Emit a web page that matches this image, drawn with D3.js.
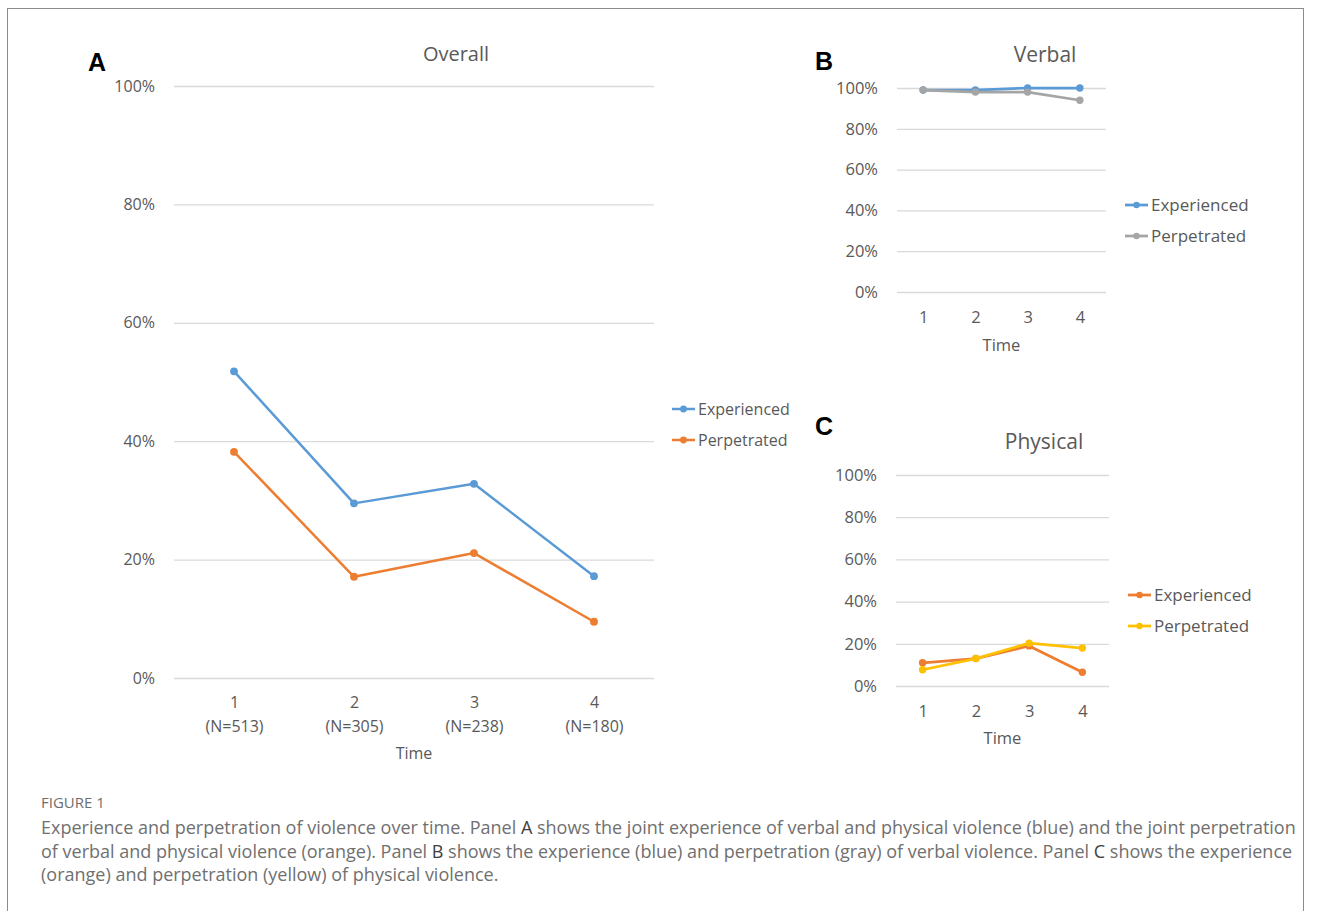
<!DOCTYPE html>
<html>
<head>
    <title>Experience and perpetration of violence over time</title>
    <script src="https://d3js.org/d3.v7.min.js"></script>
    <style>
        body { margin: 0; background: #fff; }
        svg text { font-family: "Open Sans", Lato, sans-serif; }
    </style>
</head>
<body>
    <div id="chart"></div>

    <script>
        // data
        var times = ["1", "2", "3", "4"];
        var sampleSizes = ["(N=513)", "(N=305)", "(N=238)", "(N=180)"];
        var yTicks = [0, 20, 40, 60, 80, 100];
        var seriesNames = ["Experienced", "Perpetrated"];

        var overallExperienced = [51.8, 29.5, 32.8, 17.2];
        var overallPerpetrated = [38.2, 17.1, 21.1, 9.5];
        var verbalExperienced = [99, 99, 100, 100];
        var verbalPerpetrated = [99, 98, 98, 94];
        var physicalExperienced = [11, 13, 19, 6.5];
        var physicalPerpetrated = [7.7, 13, 20.3, 18];

        var captionHead = "FIGURE 1";
        var captionLines = [
            ["Experience and perpetration of violence over time. Panel ", "A", " shows the joint experience of verbal and physical violence (blue) and the joint perpetration"],
            ["of verbal and physical violence (orange). Panel ", "B", " shows the experience (blue) and perpetration (gray) of verbal violence. Panel ", "C", " shows the experience"],
            ["(orange) and perpetration (yellow) of physical violence."]
        ];

        var textGray = "#595959";
        var gridGray = "#d9d9d9";

        var svg = d3.select("#chart")
            .append("svg")
            .attr("width", 1331)
            .attr("height", 911);

        // frame round the figure
        svg.append("rect")
            .attr("x", 7.5).attr("y", 8.5)
            .attr("width", 1296).attr("height", 940)
            .attr("fill", "none")
            .attr("stroke", "#8c8c8c")
            .attr("stroke-width", 1);

        function drawPanel(p) {
            var x = d3.scalePoint().domain(times).range([p.left, p.right]).padding(0.5);
            var y = d3.scaleLinear().domain([0, 100]).range([p.bottom, p.top]);

            var g = svg.append("g");

            // gridlines + y labels
            var yAxis = g.append("g")
                .attr("transform", "translate(" + p.left + ",0)")
                .call(d3.axisLeft(y).tickValues(yTicks)
                    .tickSize(-(p.right - p.left))
                    .tickPadding(19)
                    .tickFormat(function(d) { return d + "%"; }));
            yAxis.select(".domain").remove();
            yAxis.selectAll("line").attr("stroke", gridGray).attr("stroke-width", 1.3);
            yAxis.selectAll("text")
                .attr("fill", textGray)
                .style("font-size", p.tickSize + "px")
                .style("font-family", "'Open Sans', sans-serif");

            // x labels
            var xAxis = g.append("g")
                .attr("transform", "translate(0," + p.bottom + ")")
                .call(d3.axisBottom(x).tickSize(0).tickPadding(p.xPad));
            xAxis.select(".domain").remove();
            xAxis.selectAll("text")
                .attr("fill", textGray)
                .style("font-size", p.tickSize + "px")
                .style("font-family", "'Open Sans', sans-serif");

            if (p.subLabels) {
                xAxis.selectAll(".tick").append("text")
                    .attr("y", p.xPad + 24)
                    .attr("dy", "0.71em")
                    .attr("text-anchor", "middle")
                    .attr("fill", textGray)
                    .style("font-size", p.tickSize + "px")
                    .text(function(d, i) { return p.subLabels[i]; });
            }

            g.append("text")
                .attr("x", (p.left + p.right) / 2)
                .attr("y", p.timeY)
                .attr("text-anchor", "middle")
                .attr("fill", textGray)
                .style("font-size", p.tickSize + "px")
                .text("Time");

            g.append("text")
                .attr("x", p.titleX)
                .attr("y", p.titleY)
                .attr("text-anchor", "middle")
                .attr("fill", textGray)
                .style("font-size", p.titleSize + "px")
                .text(p.title);

            g.append("text")
                .attr("x", p.letterX)
                .attr("y", p.letterY)
                .attr("fill", "#000")
                .style("font-family", "'Liberation Sans', Arial, sans-serif")
                .style("font-weight", "bold")
                .style("font-size", "25px")
                .text(p.letter);

            var line = d3.line()
                .x(function(d, i) { return x(times[i]); })
                .y(function(d) { return y(d); });

            p.series.forEach(function(s) {
                g.append("path")
                    .datum(s.values)
                    .attr("d", line)
                    .attr("fill", "none")
                    .attr("stroke", s.color)
                    .attr("stroke-width", p.lineWidth)
                    .attr("stroke-linejoin", "round");
                g.selectAll(null)
                    .data(s.values)
                    .enter()
                    .append("circle")
                    .attr("cx", function(d, i) { return x(times[i]); })
                    .attr("cy", function(d) { return y(d); })
                    .attr("r", p.dot)
                    .attr("fill", s.color);
            });

            // legend
            p.series.forEach(function(s, i) {
                var ly = p.legendY + i * 31;
                g.append("line")
                    .attr("x1", p.legendX).attr("x2", p.legendX + 23)
                    .attr("y1", ly).attr("y2", ly)
                    .attr("stroke", s.color)
                    .attr("stroke-width", p.lineWidth);
                g.append("circle")
                    .attr("cx", p.legendX + 11.5).attr("cy", ly)
                    .attr("r", p.dot - 0.5)
                    .attr("fill", s.color);
                g.append("text")
                    .attr("x", p.legendX + 26)
                    .attr("y", ly)
                    .attr("dy", "0.35em")
                    .attr("fill", textGray)
                    .style("font-size", p.legendSize + "px")
                    .text(seriesNames[i]);
            });
        }

        drawPanel({
            left: 174, right: 654, top: 86, bottom: 678,
            tickSize: 16, xPad: 19, subLabels: sampleSizes, timeY: 759,
            title: "Overall", titleX: 456, titleY: 61, titleSize: 20,
            letter: "A", letterX: 88, letterY: 70.5,
            lineWidth: 2.5, dot: 3.9,
            legendX: 672, legendY: 409, legendSize: 16,
            series: [
                { values: overallExperienced, color: "#5b9bd5" },
                { values: overallPerpetrated, color: "#ed7d31" }
            ]
        });

        drawPanel({
            left: 897, right: 1106, top: 88, bottom: 292,
            tickSize: 16.5, xPad: 19, timeY: 351,
            title: "Verbal", titleX: 1045, titleY: 62, titleSize: 21,
            letter: "B", letterX: 815, letterY: 70,
            lineWidth: 2.75, dot: 3.7,
            legendX: 1125, legendY: 205, legendSize: 17,
            series: [
                { values: verbalExperienced, color: "#5b9bd5" },
                { values: verbalPerpetrated, color: "#a5a5a5" }
            ]
        });

        drawPanel({
            left: 896, right: 1109, top: 475, bottom: 686,
            tickSize: 16.5, xPad: 19, timeY: 744,
            title: "Physical", titleX: 1044, titleY: 449, titleSize: 21,
            letter: "C", letterX: 815, letterY: 435,
            lineWidth: 2.75, dot: 3.7,
            legendX: 1128, legendY: 595, legendSize: 17,
            series: [
                { values: physicalExperienced, color: "#ed7d31" },
                { values: physicalPerpetrated, color: "#ffc000" }
            ]
        });

        // caption
        svg.append("text")
            .attr("x", 41).attr("y", 808)
            .attr("fill", "#6e6e6e")
            .style("font-size", "15px")
            .text(captionHead);

        captionLines.forEach(function(parts, i) {
            var t = svg.append("text")
                .attr("x", 41)
                .attr("y", 834 + i * 23.5)
                .attr("fill", "#707070")
                .style("font-size", "18px");
            parts.forEach(function(part, j) {
                t.append("tspan")
                    .attr("fill", j % 2 === 1 ? "#404040" : "#707070")
                    .text(part);
            });
        });
    </script>
</body>
</html>
